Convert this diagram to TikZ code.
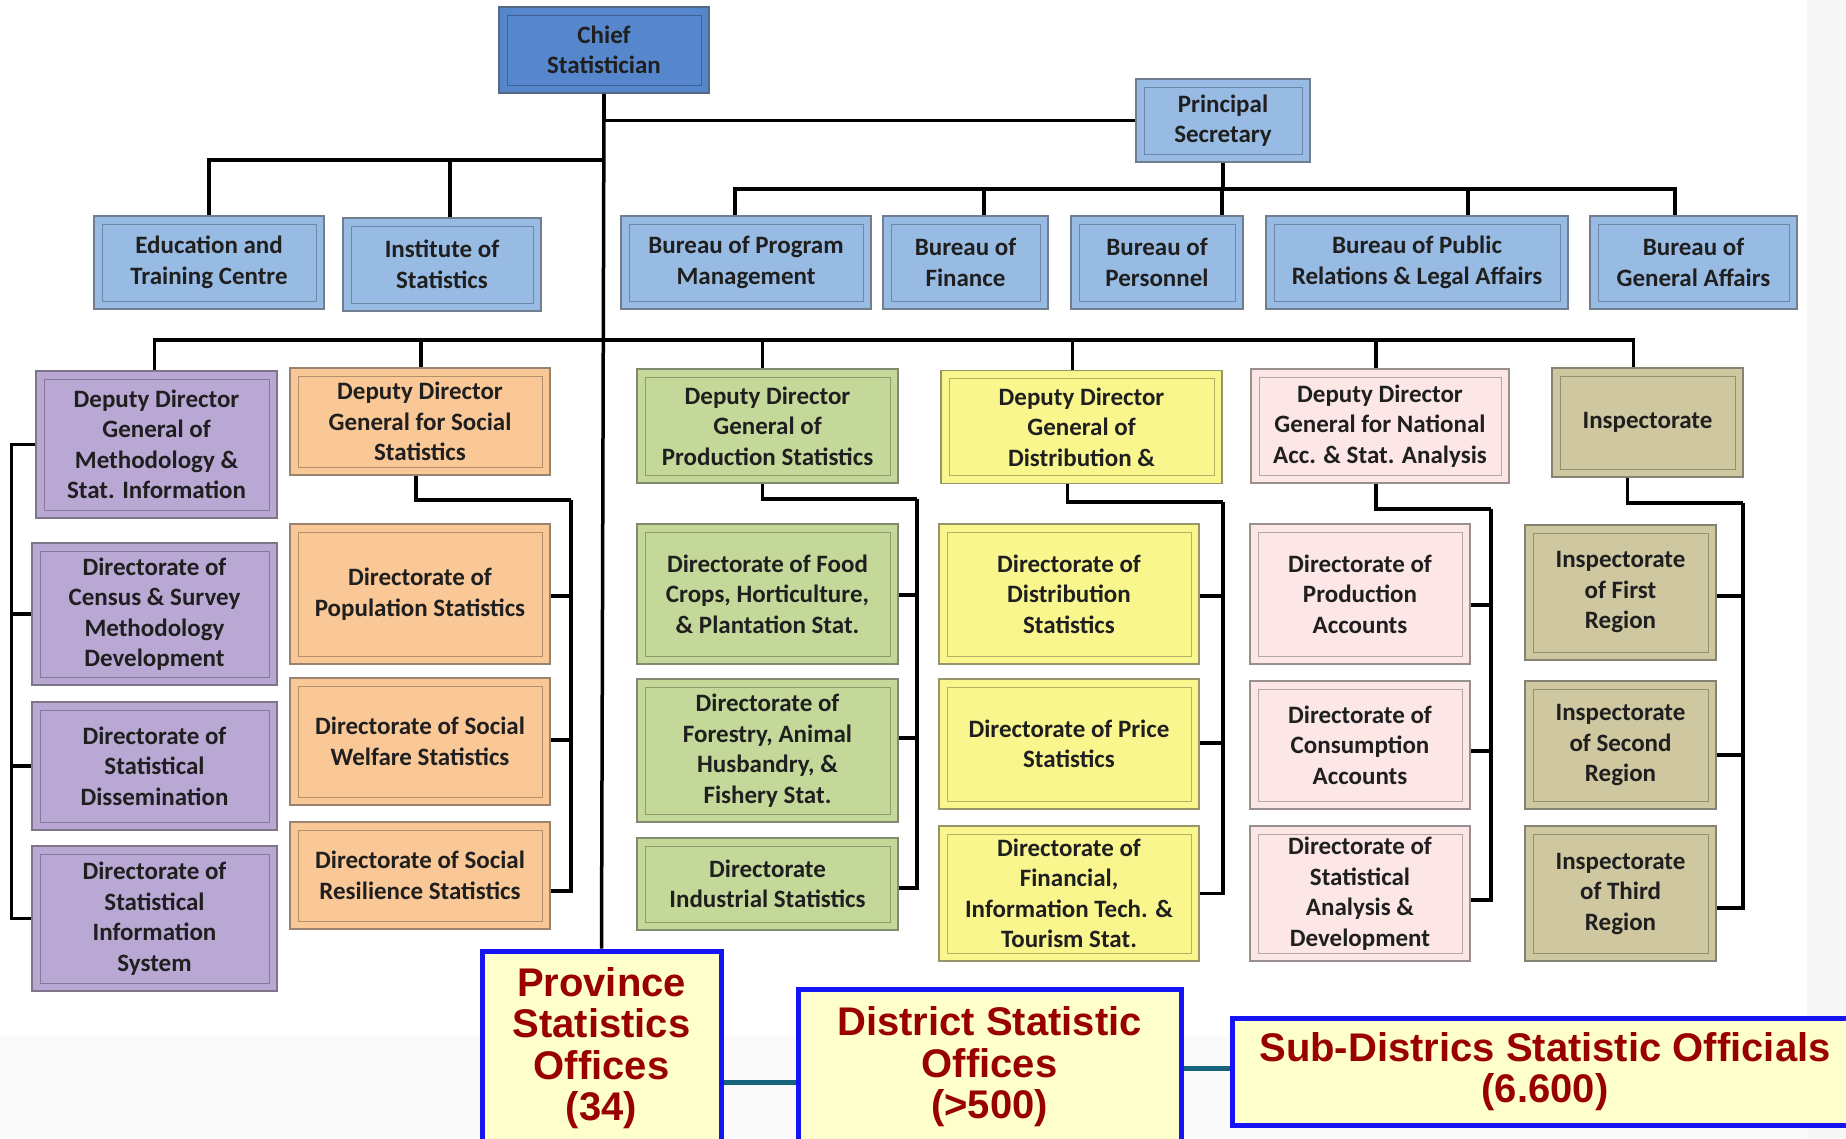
\documentclass[tikz,border=0pt]{standalone}
\usepackage{fontspec}
\setmainfont{Carlito}
\newfontfamily\officefont{Liberation Sans}
\usetikzlibrary{positioning,calc}

\definecolor{chiefblue}{HTML}{5686CB}
\definecolor{bureaublue}{HTML}{98BBE4}
\definecolor{methpurple}{HTML}{B9A8D4}
\definecolor{socorange}{HTML}{FAC796}
\definecolor{prodgreen}{HTML}{C4D89A}
\definecolor{distyellow}{HTML}{FAF68E}
\definecolor{accpink}{HTML}{FCE6E6}
\definecolor{inspkhaki}{HTML}{CEC7A0}
\definecolor{offfill}{HTML}{FFFFCC}
\definecolor{offblue}{HTML}{1414F5}
\definecolor{offred}{HTML}{990000}
\definecolor{linkteal}{HTML}{17657D}

\begin{document}
\begin{tikzpicture}[
    x=1pt, y=-1pt,
    box/.style={rectangle, draw=#1!50!black!80, fill=#1, line width=1.5pt, inner sep=2pt, align=center, text=black!88, font=\fontsize{25}{30.5}\selectfont\bfseries,
        path picture={\draw[#1!72!black, line width=1pt] ([shift={(8pt,-8pt)}]path picture bounding box.north west) rectangle ([shift={(-8pt,8pt)}]path picture bounding box.south east);}},
    wh/.style 2 args={minimum width=#1, minimum height=#2},
    chiefbox/.style={box=chiefblue},
    bureau/.style={box=bureaublue},
    meth/.style={box=methpurple},
    social/.style={box=socorange},
    prod/.style={box=prodgreen},
    distr/.style={box=distyellow},
    acc/.style={box=accpink},
    inspect/.style={box=inspkhaki},
    office/.style={rectangle, draw=offblue, line width=5pt, fill=offfill, text=offred, align=center, inner sep=0pt, font=\officefont\fontsize{40}{41.5}\selectfont\bfseries},
    line/.style={line width=3.5pt},
    link/.style={line width=5pt, draw=linkteal}
]
\useasboundingbox (0,0) rectangle (1846,1138);
\fill[white] (0,0) rectangle (1846,1138);
\fill[black!2] (0,1036) rectangle (1846,1138);
\fill[black!3] (1807,0) rectangle (1846,1138);

% Top
\node[chiefbox, wh={210}{86}] (chief) at (604,50) {Chief\\Statistician};
\node[bureau, wh={174}{83}] (prin) at (1223,120.5) {Principal\\Secretary};

% Staff units and bureaus
\node[bureau, wh={230}{93}] (edu) at (209,262.5) {Education and\\Training Centre};
\node[bureau, wh={198}{93}] (inst) at (442,264.5) {Institute of\\Statistics};
\node[bureau, wh={250}{93}] (prog) at (746,262.5) {Bureau of Program\\Management};
\node[bureau, wh={165}{93}] (fin) at (965.5,262.5) {Bureau of\\Finance};
\node[bureau, wh={172}{93}] (pers) at (1157,262.5) {Bureau of\\Personnel};
\node[bureau, wh={302}{93}] (pub) at (1417,262.5) {Bureau of Public\\Relations \& Legal Affairs};
\node[bureau, wh={207}{93}] (gen) at (1693.5,262.5) {Bureau of\\General Affairs};

% Deputies
\node[meth, wh={241}{147}] (ddm) at (156.5,444.5) {Deputy Director\\General of\\Methodology \&\\Stat. Information};
\node[social, wh={260}{107}] (dds) at (420,421.5) {Deputy Director\\General for Social\\Statistics};
\node[prod, wh={261}{114}] (ddp) at (767.5,426) {Deputy Director\\General of\\Production Statistics};
\node[distr, wh={281}{113}] (ddd) at (1081.5,427) {Deputy Director\\General of\\Distribution \&};
\node[acc, wh={258}{114}] (ddn) at (1380,426) {Deputy Director\\General for National\\Acc. \& Stat. Analysis};
\node[inspect, wh={191}{109}] (insp) at (1647.5,422.5) {Inspectorate};

% Methodology directorates
\node[meth, wh={245}{142}] (census) at (154.5,614) {Directorate of\\Census \& Survey\\Methodology\\Development};
\node[meth, wh={245}{128}] (diss) at (154.5,766) {Directorate of\\Statistical\\Dissemination};
\node[meth, wh={245}{145}] (infosys) at (154.5,918.5) {Directorate of\\Statistical\\Information\\System};

% Social directorates
\node[social, wh={260}{140}] (pop) at (420,594) {Directorate of\\Population Statistics};
\node[social, wh={260}{127}] (welf) at (420,741.5) {Directorate of Social\\Welfare Statistics};
\node[social, wh={260}{107}] (resil) at (420,875.5) {Directorate of Social\\Resilience Statistics};

% Production directorates
\node[prod, wh={261}{140}] (food) at (767.5,594) {Directorate of Food\\Crops, Horticulture,\\\& Plantation Stat.};
\node[prod, wh={261}{143}] (forest) at (767.5,750.5) {Directorate of\\Forestry, Animal\\Husbandry, \&\\Fishery Stat.};
\node[prod, wh={261}{92}] (indus) at (767.5,884) {Directorate\\Industrial Statistics};

% Distribution directorates
\node[distr, wh={260}{140}] (dstat) at (1069,594) {Directorate of\\Distribution\\Statistics};
\node[distr, wh={260}{130}] (price) at (1069,744) {Directorate of Price\\Statistics};
\node[distr, wh={260}{135}] (fintour) at (1069,893.5) {Directorate of\\Financial,\\Information Tech. \&\\Tourism Stat.};

% Accounts directorates
\node[acc, wh={220}{140}] (pacc) at (1360,594) {Directorate of\\Production\\Accounts};
\node[acc, wh={220}{128}] (cacc) at (1360,745) {Directorate of\\Consumption\\Accounts};
\node[acc, wh={220}{135}] (sad) at (1360,893.5) {Directorate of\\Statistical\\Analysis \&\\Development};

% Regional inspectorates
\node[inspect, wh={191}{135}] (insa) at (1620.5,592.5) {Inspectorate\\of First\\Region};
\node[inspect, wh={191}{128}] (insb) at (1620.5,745) {Inspectorate\\of Second\\Region};
\node[inspect, wh={191}{135}] (insc) at (1620.5,893.5) {Inspectorate\\of Third\\Region};

% Field offices
\node[office, wh={239}{194}] (prov) at (601.5,1048) {Province\\Statistics\\Offices\\(34)};
\node[office, wh={383}{156}] (dist) at (989.5,1067) {District Statistic\\Offices\\(>500)};
\node[office, wh={626}{107}] (sub) at (1545,1071.5) {Sub-Districs Statistic Officials\\(6.600)};

% Lines - top
\draw[line] (chief.south) |- (prin.west);
\draw[line] (chief.south) -- (prov.north);
\coordinate (staff) at (604,160);
\draw[line] (staff) -| (edu.north);
\draw[line] (staff) -| ([xshift=8pt]inst.north);
\coordinate (bur) at (1223,189);
\draw[line] (prin.south) -- (bur);
\foreach \n/\dx in {prog/-11, fin/18.5, pers/65, pub/51, gen/-18.5}
    \draw[line] (bur) -| ([xshift=\dx pt]\n.north);

% Lines - deputies
\coordinate (dep) at (604,340);
\foreach \n/\dx in {ddm/-2, dds/1, ddp/-5, ddd/-9, ddn/-4, insp/-14}
    \draw[line] (dep) -| ([xshift=\dx pt]\n.north);

% Lines - directorates
\foreach \n in {census,diss,infosys}
    \draw[line] (ddm.west) -- ++(-24,0) |- (\n.west);
\coordinate (sbus) at (571,500);
\draw[line] ([xshift=-4pt]dds.south) |- (sbus);
\foreach \n/\dy in {pop/-2, welf/1.5, resil/-15.5}
    \draw[line] (sbus) |- ([yshift=\dy pt]\n.east);
\coordinate (gbus) at (917,499);
\draw[line] ([xshift=-5pt]ddp.south) |- (gbus);
\foreach \n/\dy in {food/-1, forest/12.5, indus/-4}
    \draw[line] (gbus) |- ([yshift=\dy pt]\n.east);
\coordinate (ybus) at (1223,502);
\draw[line] ([xshift=-14pt]ddd.south) |- (ybus);
\foreach \n/\dy in {dstat/-2, price/1, fintour/0}
    \draw[line] (ybus) |- ([yshift=\dy pt]\n.east);
\coordinate (pbus) at (1491,509);
\draw[line] ([xshift=-4pt]ddn.south) |- (pbus);
\foreach \n/\dy in {pacc/-11, cacc/-6, sad/-6.5}
    \draw[line] (pbus) |- ([yshift=\dy pt]\n.east);
\coordinate (kbus) at (1743,503);
\draw[line] ([xshift=-20pt]insp.south) |- (kbus);
\foreach \n/\dy in {insa/-3.5, insb/-10, insc/-14.5}
    \draw[line] (kbus) |- ([yshift=\dy pt]\n.east);

% Lines - field offices
\draw[link] ([yshift=-34pt]prov.east) -- ([yshift=-34pt]prov.east -| dist.west);
\draw[link] ([yshift=-1pt]dist.east) -- ([yshift=-1pt]dist.east -| sub.west);

\end{tikzpicture}
\end{document}
